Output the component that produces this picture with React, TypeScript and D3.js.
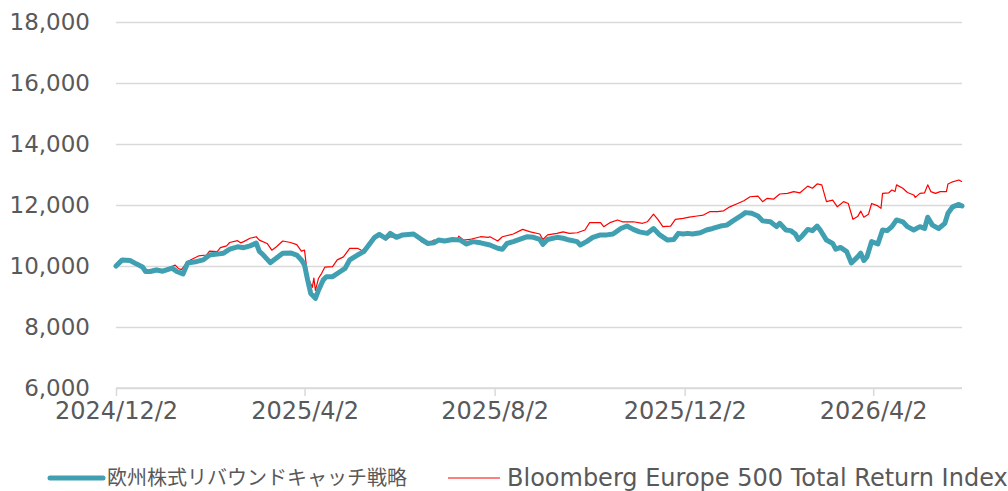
import React, { useEffect, useMemo, useRef } from 'react';
import * as d3 from 'd3';

const WIDTH = 1008;
const HEIGHT = 491;
const MARGIN = { top: 22, right: 46, bottom: 103, left: 116 };

const STRATEGY_NAME = '欧州株式リバウンドキャッチ戦略';
const INDEX_NAME = 'Bloomberg Europe 500 Total Return Index';

const yTicks = [6000, 8000, 10000, 12000, 14000, 16000, 18000];
const xTickDates = ['2024-12-02', '2025-04-02', '2025-08-02', '2025-12-02', '2026-04-02'];
const xTickLabels = ['2024/12/2', '2025/4/2', '2025/8/2', '2025/12/2', '2026/4/2'];
const xEnd = '2026-05-29';

// strategy (teal)
const strategyDates = [
  '2024-12-02', '2024-12-06', '2024-12-11', '2024-12-15', '2024-12-19', '2024-12-21', '2024-12-24', '2024-12-28',
  '2025-01-01', '2025-01-07', '2025-01-10', '2025-01-14', '2025-01-17', '2025-01-23', '2025-01-27', '2025-01-31',
  '2025-02-05', '2025-02-09', '2025-02-13', '2025-02-18', '2025-02-22', '2025-02-26', '2025-03-02', '2025-03-04',
  '2025-03-06', '2025-03-11', '2025-03-15', '2025-03-19', '2025-03-24', '2025-03-28', '2025-03-31', '2025-04-02',
  '2025-04-04', '2025-04-06', '2025-04-09', '2025-04-11', '2025-04-14', '2025-04-16', '2025-04-20', '2025-04-25',
  '2025-04-28', '2025-05-01', '2025-05-06', '2025-05-10', '2025-05-14', '2025-05-17', '2025-05-20', '2025-05-24',
  '2025-05-27', '2025-05-31', '2025-06-04', '2025-06-11', '2025-06-15', '2025-06-20', '2025-06-24', '2025-06-27',
  '2025-07-01', '2025-07-06', '2025-07-11', '2025-07-15', '2025-07-19', '2025-07-24', '2025-07-30', '2025-08-04',
  '2025-08-07', '2025-08-10', '2025-08-14', '2025-08-18', '2025-08-23', '2025-08-27', '2025-08-31', '2025-09-02',
  '2025-09-05', '2025-09-11', '2025-09-15', '2025-09-19', '2025-09-24', '2025-09-26', '2025-09-30', '2025-10-04',
  '2025-10-09', '2025-10-13', '2025-10-17', '2025-10-22', '2025-10-26', '2025-10-30', '2025-11-03', '2025-11-08',
  '2025-11-12', '2025-11-16', '2025-11-21', '2025-11-25', '2025-11-28', '2025-12-01', '2025-12-04', '2025-12-07',
  '2025-12-12', '2025-12-16', '2025-12-20', '2025-12-25', '2025-12-29', '2026-01-02', '2026-01-07', '2026-01-10',
  '2026-01-14', '2026-01-18', '2026-01-21', '2026-01-26', '2026-01-30', '2026-02-01', '2026-02-05', '2026-02-08',
  '2026-02-11', '2026-02-13', '2026-02-15', '2026-02-19', '2026-02-22', '2026-02-25', '2026-02-27', '2026-03-03',
  '2026-03-07', '2026-03-09', '2026-03-12', '2026-03-16', '2026-03-19', '2026-03-23', '2026-03-25', '2026-03-27',
  '2026-03-29', '2026-04-01', '2026-04-05', '2026-04-08', '2026-04-11', '2026-04-14', '2026-04-17', '2026-04-21',
  '2026-04-24', '2026-04-28', '2026-05-02', '2026-05-05', '2026-05-07', '2026-05-10', '2026-05-14', '2026-05-18',
  '2026-05-20', '2026-05-23', '2026-05-27', '2026-05-29',
];
const strategyValues = [
  10000, 10200, 10180, 10070, 9970, 9820, 9820, 9870,
  9830, 9930, 9820, 9740, 10100, 10150, 10200, 10360,
  10390, 10420, 10550, 10630, 10600, 10660, 10750, 10480,
  10390, 10110, 10260, 10420, 10430, 10360, 10200, 10030,
  9540, 9100, 8940, 9210, 9540, 9650, 9650, 9820,
  9920, 10200, 10360, 10470, 10740, 10940, 11040, 10910,
  11070, 10940, 11020, 11050, 10910, 10740, 10760, 10850,
  10820, 10870, 10850, 10720, 10800, 10760, 10690, 10580,
  10550, 10740, 10800, 10870, 10960, 10940, 10870, 10710,
  10870, 10940, 10910, 10850, 10800, 10690, 10800, 10940,
  11020, 11020, 11050, 11230, 11310, 11200, 11120, 11070,
  11230, 11020, 10850, 10870, 11070, 11050, 11070, 11050,
  11090, 11180, 11230, 11310, 11340, 11480, 11640, 11750,
  11730, 11640, 11480, 11450, 11290, 11400, 11180, 11160,
  11050, 10870, 10960, 11200, 11160, 11310, 11180, 10850,
  10740, 10550, 10610, 10470, 10100, 10300, 10420, 10180,
  10300, 10800, 10720, 11180, 11160, 11290, 11510, 11450,
  11290, 11180, 11290, 11230, 11600, 11340, 11230, 11400,
  11730, 11940, 12020, 11970,
];

// benchmark (red)
const indexDates = [
  '2024-12-02', '2024-12-06', '2024-12-11', '2024-12-15', '2024-12-19', '2024-12-21', '2024-12-24', '2024-12-28',
  '2025-01-01', '2025-01-07', '2025-01-09', '2025-01-11', '2025-01-13', '2025-01-17', '2025-01-20', '2025-01-24',
  '2025-01-29', '2025-01-31', '2025-02-05', '2025-02-07', '2025-02-11', '2025-02-13', '2025-02-18', '2025-02-20',
  '2025-02-22', '2025-02-26', '2025-03-02', '2025-03-04', '2025-03-09', '2025-03-12', '2025-03-15', '2025-03-19',
  '2025-03-24', '2025-03-28', '2025-03-31', '2025-04-02', '2025-04-04', '2025-04-07', '2025-04-08', '2025-04-09',
  '2025-04-11', '2025-04-13', '2025-04-15', '2025-04-20', '2025-04-23', '2025-04-27', '2025-05-01', '2025-05-06',
  '2025-05-09', '2025-05-14', '2025-05-19', '2025-05-22', '2025-05-24', '2025-05-27', '2025-05-31', '2025-06-04',
  '2025-06-11', '2025-06-16', '2025-06-20', '2025-06-24', '2025-06-30', '2025-07-09', '2025-07-10', '2025-07-13',
  '2025-07-17', '2025-07-24', '2025-07-29', '2025-07-30', '2025-08-04', '2025-08-07', '2025-08-14', '2025-08-20',
  '2025-08-25', '2025-08-31', '2025-09-02', '2025-09-05', '2025-09-11', '2025-09-15', '2025-09-19', '2025-09-24',
  '2025-09-29', '2025-10-02', '2025-10-09', '2025-10-11', '2025-10-15', '2025-10-20', '2025-10-23', '2025-10-30',
  '2025-11-05', '2025-11-08', '2025-11-12', '2025-11-15', '2025-11-18', '2025-11-23', '2025-11-26', '2025-12-01',
  '2025-12-05', '2025-12-10', '2025-12-14', '2025-12-18', '2025-12-23', '2025-12-27', '2025-12-31', '2026-01-05',
  '2026-01-09', '2026-01-13', '2026-01-18', '2026-01-21', '2026-01-24', '2026-01-28', '2026-02-01', '2026-02-06',
  '2026-02-10', '2026-02-14', '2026-02-19', '2026-02-22', '2026-02-25', '2026-02-28', '2026-03-03', '2026-03-07',
  '2026-03-10', '2026-03-14', '2026-03-17', '2026-03-20', '2026-03-23', '2026-03-25', '2026-03-27', '2026-03-30',
  '2026-04-01', '2026-04-05', '2026-04-07', '2026-04-08', '2026-04-12', '2026-04-14', '2026-04-16', '2026-04-17',
  '2026-04-21', '2026-04-24', '2026-04-28', '2026-04-29', '2026-05-02', '2026-05-05', '2026-05-07', '2026-05-09',
  '2026-05-12', '2026-05-15', '2026-05-19', '2026-05-20', '2026-05-23', '2026-05-27', '2026-05-29',
];
const indexValues = [
  10000, 10220, 10150, 10090, 10000, 9870, 9870, 9920,
  9870, 9980, 10030, 9920, 9880, 10150, 10230, 10330,
  10360, 10490, 10470, 10600, 10660, 10770, 10830, 10760,
  10800, 10910, 10960, 10850, 10740, 10520, 10630, 10820,
  10770, 10700, 10490, 10520, 9650, 9300, 9600, 9200,
  9600, 9760, 9960, 9980, 10200, 10300, 10580, 10580,
  10500, 10760, 10940, 11020, 10850, 10960, 10910, 10980,
  11020, 10800, 10690, 10850, 10800, 10850, 10980, 10850,
  10870, 10960, 10940, 10960, 10820, 10960, 11050, 11200,
  11120, 11050, 10870, 11020, 11070, 11120, 11070, 11090,
  11180, 11420, 11420, 11290, 11420, 11510, 11450, 11450,
  11400, 11450, 11700, 11510, 11290, 11310, 11530, 11560,
  11600, 11640, 11670, 11780, 11780, 11810, 11940, 12050,
  12140, 12270, 12290, 12110, 12220, 12190, 12360, 12380,
  12440, 12400, 12620, 12550, 12690, 12660, 12110, 12160,
  11940, 12110, 12050, 11530, 11620, 11800, 11600, 11700,
  12050, 11970, 11890, 12380, 12400, 12490, 12440, 12660,
  12550, 12410, 12330, 12250, 12380, 12400, 12660, 12440,
  12380, 12440, 12440, 12690, 12760, 12820, 12760,
];

const TEAL = '#40A0B2';
const RED = '#FF0000';
const GRID = '#D9D9D9';
const TEXT = '#595959';
const FONT = '"DejaVu Sans", Verdana, sans-serif';
const JP_FONT = '"Noto Sans CJK JP", "DejaVu Sans", sans-serif';

const parse = d3.timeParse('%Y-%m-%d');

const Chart = ({ width, height }: { width: number; height: number }) => {
  const axesRef = useRef<SVGGElement>(null);

  const boundsWidth = width - MARGIN.left - MARGIN.right;
  const boundsHeight = height - MARGIN.top - MARGIN.bottom;

  const strategy = useMemo(
    () => strategyDates.map((d, i) => ({ date: parse(d) as Date, value: strategyValues[i] })),
    []
  );
  const bench = useMemo(
    () => indexDates.map((d, i) => ({ date: parse(d) as Date, value: indexValues[i] })),
    []
  );

  const xScale = useMemo(
    () => d3.scaleTime().domain([parse(xTickDates[0]) as Date, parse(xEnd) as Date]).range([0, boundsWidth]),
    [boundsWidth]
  );
  const yScale = useMemo(
    () => d3.scaleLinear().domain([6000, 18000]).range([boundsHeight, 0]),
    [boundsHeight]
  );

  const line = d3
    .line<{ date: Date; value: number }>()
    .x((d) => xScale(d.date))
    .y((d) => yScale(d.value));

  useEffect(() => {
    const g = d3.select(axesRef.current);
    g.selectAll('*').remove();

    // horizontal grid + y labels
    const yAxis = d3
      .axisLeft(yScale)
      .tickValues(yTicks)
      .tickSize(-boundsWidth)
      .tickPadding(26)
      .tickFormat((d) => d3.format(',')(d as number));
    const yg = g.append('g').call(yAxis);
    yg.select('.domain').remove();
    yg.selectAll('.tick line').attr('stroke', GRID).attr('stroke-width', 1.5);
    yg.selectAll('.tick text')
      .attr('fill', TEXT)
      .style('font-family', FONT)
      .style('font-size', '23px');

    // date axis at the bottom
    const xAxis = d3
      .axisBottom(xScale)
      .tickValues(xTickDates.map((d) => parse(d) as Date))
      .tickSize(8)
      .tickPadding(6)
      .tickFormat((_, i) => xTickLabels[i]);
    const xg = g.append('g').attr('transform', `translate(0,${boundsHeight})`).call(xAxis);
    xg.select('.domain').attr('stroke', GRID).attr('stroke-width', 1.5).attr('d', `M0,0H${boundsWidth}`);
    xg.selectAll('.tick line').attr('stroke', GRID).attr('stroke-width', 1.5);
    xg.selectAll('.tick text')
      .attr('fill', TEXT)
      .style('font-family', FONT)
      .style('font-size', '24px');
  }, [xScale, yScale, boundsWidth, boundsHeight]);

  const legendY = 478;

  return (
    <svg width={width} height={height} style={{ position: 'absolute', left: 0, top: 0, background: '#fff' }}>
      <g transform={`translate(${MARGIN.left},${MARGIN.top})`}>
        <g ref={axesRef} />
        <path d={line(bench) ?? ''} fill="none" stroke={RED} strokeWidth={1.2} strokeLinejoin="round" />
        <path
          d={line(strategy) ?? ''}
          fill="none"
          stroke={TEAL}
          strokeWidth={5}
          strokeLinejoin="round"
          strokeLinecap="round"
        />
      </g>

      {/* legend */}
      <line x1={50} x2={103} y1={legendY} y2={legendY} stroke={TEAL} strokeWidth={5} strokeLinecap="round" />
      <text x={107} y={legendY} dy="0.35em" fill={TEXT} fontFamily={JP_FONT} fontSize={20}>
        {STRATEGY_NAME}
      </text>
      <line x1={448} x2={500} y1={legendY} y2={legendY} stroke={RED} strokeWidth={1.2} />
      <text x={507} y={legendY} dy="0.35em" fill={TEXT} fontFamily={FONT} fontSize={24}>
        {INDEX_NAME}
      </text>
    </svg>
  );
};

export default function App() {
  return <Chart width={WIDTH} height={HEIGHT} />;
}
